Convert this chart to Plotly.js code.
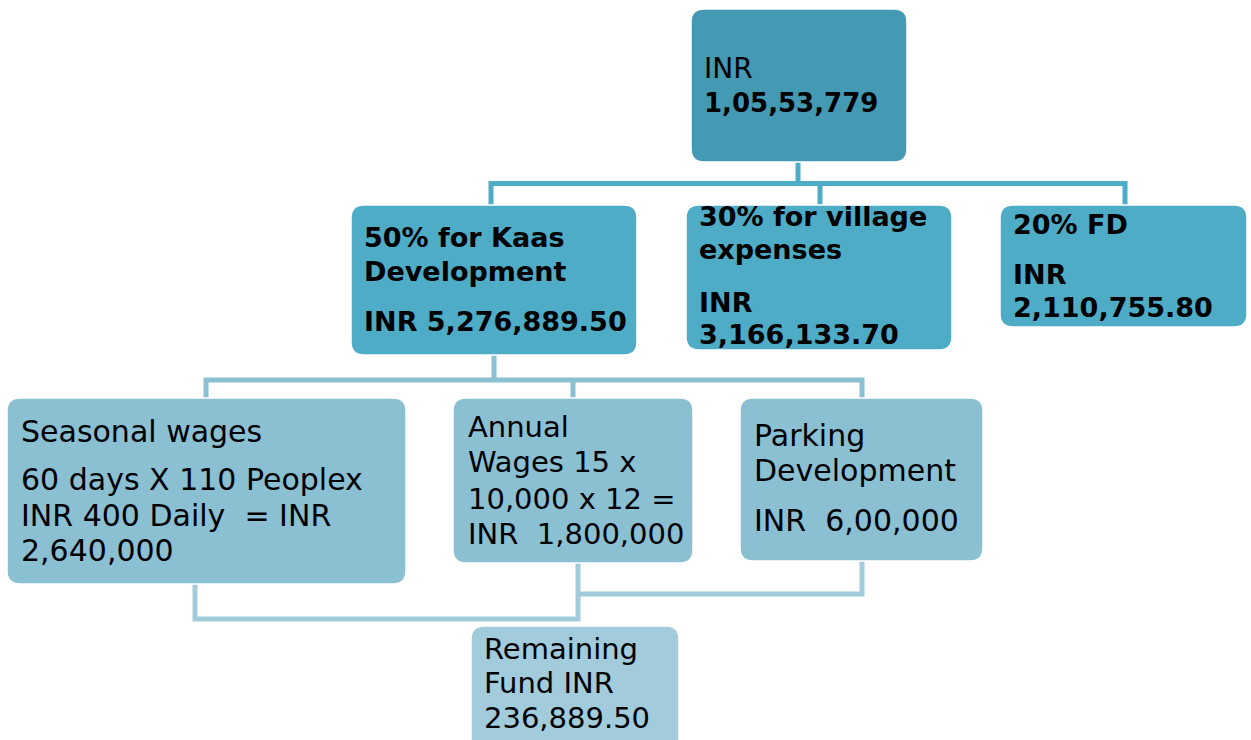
<!DOCTYPE html>
<html>
<head>
<meta charset="utf-8">
<script src="https://cdn.plot.ly/plotly-3.0.1.min.js"></script>
<style>html,body{margin:0;padding:0;background:#fff;}#chart{width:1251px;height:740px;}</style>
</head>
<body>
<div id="chart"></div>
<script>
// ---------- DATA (text content of the tree) ----------
const rootLines = ["INR", "1,05,53,779"];
const rootBold = [false, true];

const allocationLines = [
  ["50% for Kaas", "Development", "INR 5,276,889.50"],
  ["30% for village", "expenses", "INR", "3,166,133.70"],
  ["20% FD", "INR", "2,110,755.80"]
];

const spendingLines = [
  ["Seasonal wages", "60 days X 110 Peoplex", "INR 400 Daily  = INR", "2,640,000"],
  ["Annual", "Wages 15 x", "10,000 x 12 =", "INR  1,800,000"],
  ["Parking", "Development", "INR  6,00,000"]
];

const remainderLines = ["Remaining", "Fund INR", "236,889.50"];

// ---------- GEOMETRY / STYLE (diagram layout, pixel space) ----------
const W = 1251, H = 740;
const FONT = "DejaVu Sans, Verdana, sans-serif";
const boxGeom = {
  root:  {x0: 691, x1: 907, y0: 9,   y1: 162, fill: "#4499B3", tx: 703, base: [79, 113], size: [28, 26]},
  a0:    {x0: 351, x1: 637, y0: 205, y1: 355, fill: "#4EACC7", tx: 363, base: [248, 282, 332], size: 27},
  a1:    {x0: 686, x1: 952, y0: 205, y1: 350, fill: "#4EACC7", tx: 698, base: [227, 260, 313, 345], size: 27},
  a2:    {x0: 1000, x1: 1247, y0: 205, y1: 327, fill: "#4EACC7", tx: 1012, base: [235, 285, 318], size: 27},
  s0:    {x0: 7,   x1: 406, y0: 398, y1: 584, fill: "#8BBFD2", tx: 20,  base: [443, 491, 527, 562], size: 30},
  s1:    {x0: 453, x1: 693, y0: 398, y1: 563, fill: "#8BBFD2", tx: 467, base: [438, 473, 510, 545], size: 29},
  s2:    {x0: 740, x1: 983, y0: 398, y1: 561, fill: "#8BBFD2", tx: 753, base: [447, 482, 532], size: 30},
  rem:   {x0: 471, x1: 679, y0: 626, y1: 760, fill: "#A2CBDC", tx: 483, base: [660, 694, 729], size: 29}
};
const connGeom = [
  {path: "M798,162 V183.5 M491,183.5 H1125 M491,181 V205 M820,183.5 V205 M1125,181 V205", color: "#4EACC7"},
  {path: "M494,355 V380 M206,380 H862 M206,377.5 V398 M573,380 V398 M862,377.5 V398", color: "#8BBFD2"},
  {path: "M195,584 V619 H580 M578,563 V621 M862,561 V594 H575.5", color: "#A2CBDC"}
];

function roundRect(g, r) {
  const {x0, x1, y0, y1} = g;
  return `M${x0 + r},${y0} H${x1 - r} Q${x1},${y0} ${x1},${y0 + r} V${y1 - r} Q${x1},${y1} ${x1 - r},${y1} ` +
         `H${x0 + r} Q${x0},${y1} ${x0},${y1 - r} V${y0 + r} Q${x0},${y0} ${x0 + r},${y0} Z`;
}

const shapes = [];
const annotations = [];

connGeom.forEach(c => shapes.push({type: "path", path: c.path, xref: "x", yref: "y",
  line: {color: c.color, width: 5}, fillcolor: "rgba(0,0,0,0)", layer: "below"}));

function addBox(key, lines, boldFlags) {
  const g = boxGeom[key];
  shapes.push({type: "path", path: roundRect(g, 13), xref: "x", yref: "y",
    fillcolor: g.fill, line: {color: "#ffffff", width: 1.5}, layer: "above"});
  lines.forEach((t, i) => {
    const fs = Array.isArray(g.size) ? g.size[i] : g.size;
    const bold = boldFlags[i];
    annotations.push({
      x: g.tx, y: g.base[i] + 0.236 * fs, xref: "x", yref: "y",
      xanchor: "left", yanchor: "bottom", align: "left", borderpad: 0,
      showarrow: false, text: bold ? "<b>" + t + "</b>" : t,
      font: {family: FONT, size: fs, color: "#000000"}
    });
  });
}

addBox("root", rootLines, rootBold);
allocationLines.forEach((ls, i) => addBox("a" + i, ls, ls.map(() => true)));
spendingLines.forEach((ls, i) => addBox("s" + i, ls, ls.map(() => false)));
addBox("rem", remainderLines, remainderLines.map(() => false));

const layout = {
  width: W, height: H,
  margin: {l: 0, r: 0, t: 0, b: 0},
  paper_bgcolor: "#ffffff", plot_bgcolor: "#ffffff",
  xaxis: {range: [0, W], visible: false, fixedrange: true},
  yaxis: {range: [H, 0], visible: false, fixedrange: true},
  showlegend: false,
  shapes: shapes,
  annotations: annotations
};

Plotly.newPlot("chart", [{x: [], y: [], type: "scatter", mode: "markers", hoverinfo: "skip"}], layout,
  {displayModeBar: false, staticPlot: true});
</script>
</body>
</html>
